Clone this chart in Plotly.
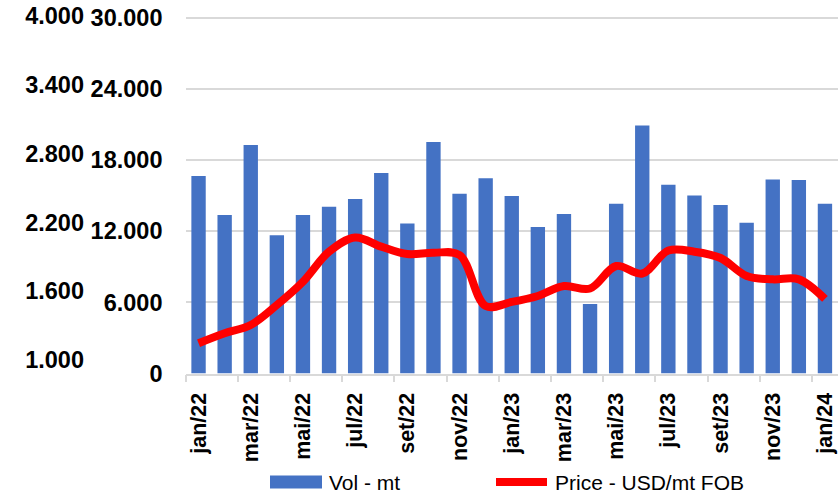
import plotly.graph_objects as go

# Monthly export volume (mt) and FOB price (USD/mt), Jan/22 - Jan/24
months = ["jan/22", "fev/22", "mar/22", "abr/22", "mai/22", "jun/22", "jul/22", "ago/22",
          "set/22", "out/22", "nov/22", "dez/22", "jan/23", "fev/23", "mar/23", "abr/23",
          "mai/23", "jun/23", "jul/23", "ago/23", "set/23", "out/23", "nov/23", "dez/23",
          "jan/24"]
volume_mt = [16650, 13350, 19250, 11650, 13350, 14050, 14700, 16900, 12650, 19500,
             15150, 16450, 14950, 12350, 13450, 5850, 14300, 20900, 15900, 15000,
             14200, 12700, 16350, 16300, 14300]
price_usd = [1146, 1233, 1305, 1479, 1682, 1944, 2068, 1988, 1924, 1935, 1915, 1471,
             1506, 1558, 1645, 1623, 1819, 1754, 1954, 1944, 1889, 1732, 1703, 1703,
             1532]

vol_ticks = [0, 6000, 12000, 18000, 24000, 30000]
price_ticks = [1000, 1600, 2200, 2800, 3400, 4000]

W, H = 838, 494
BLUE = "#4472C4"
RED = "#FF0000"
GRID = "#D9D9D9"
FAMILY = "Liberation Sans, Arial, sans-serif"
TICK_FONT = dict(family=FAMILY, size=23.5, color="#000000", weight="bold")

fig = go.Figure()

fig.add_trace(go.Bar(
    x=months, y=volume_mt, name="Vol - mt",
    marker=dict(color=BLUE, line=dict(width=0)),
    yaxis="y", showlegend=False,
))
fig.add_trace(go.Scatter(
    x=months, y=price_usd, name="Price - USD/mt FOB",
    mode="lines", line=dict(color=RED, width=8, shape="spline", smoothing=1.0),
    yaxis="y2", showlegend=False,
))

# plot area in pixels
left_px, right_px = 185.5, 838
top_px, base_px = 15.8, 373.5
px_per_6000 = 71.2
vol_top = 6000 * (base_px - top_px) / px_per_6000
# price axis: 1.000 at y=360px, 4.000 at y=15.8px
price_px_per_unit = (360 - 15.8) / 3000
price_bottom = 1000 - (base_px - 360) / price_px_per_unit

fig.update_layout(
    width=W, height=H,
    margin=dict(l=0, r=0, t=0, b=0, autoexpand=False),
    paper_bgcolor="white", plot_bgcolor="white",
    separators=",.",
    bargap=0.45,
    xaxis=dict(
        domain=[left_px / W, right_px / W],
        automargin=False,
        type="category",
        tickmode="linear", tick0=0, dtick=2,
        tickson="boundaries",
        ticks="outside", ticklen=7, tickcolor=GRID, tickwidth=1.5,
        showline=True, linecolor=GRID, linewidth=1.5,
        showgrid=False,
        tickangle=-90,
        tickfont=dict(family=FAMILY, size=21.5, color="#000000", weight="bold"),
        ticklabelstandoff=9,
        range=[-0.5, 24.5],
    ),
    yaxis=dict(
        domain=[(H - base_px) / H, (H - top_px) / H],
        automargin=False,
        range=[0, vol_top],
        tickvals=vol_ticks, tickformat=",.0f",
        showgrid=True, gridcolor=GRID, gridwidth=1.5,
        zeroline=False, showline=False, ticks="",
        tickfont=TICK_FONT,
        ticklabelstandoff=22,
    ),
    yaxis2=dict(
        overlaying="y", anchor="free", side="left",
        automargin=False,
        position=84 / W,
        range=[price_bottom, 4000],
        tickvals=price_ticks, tickformat=",.0f",
        showgrid=False, zeroline=False, showline=False, ticks="",
        tickfont=TICK_FONT,
        ticklabelstandoff=0,
    ),
)

# legend drawn below the axis
leg_y = (H - 482) / H
fig.add_shape(type="rect", xref="paper", yref="paper",
              x0=270 / W, x1=322 / W, y0=(H - 488.5) / H, y1=(H - 475.5) / H,
              fillcolor=BLUE, line=dict(width=0))
fig.add_shape(type="line", xref="paper", yref="paper",
              x0=496 / W, x1=547 / W, y0=leg_y, y1=leg_y,
              line=dict(color=RED, width=8))
legend_font = dict(family=FAMILY, size=21, color="#000000")
fig.add_annotation(xref="paper", yref="paper", x=327 / W, y=leg_y,
                   text="Vol - mt", showarrow=False, xanchor="left", yanchor="middle",
                   font=legend_font)
fig.add_annotation(xref="paper", yref="paper", x=553 / W, y=leg_y,
                   text="Price - USD/mt FOB", showarrow=False, xanchor="left", yanchor="middle",
                   font=legend_font)

fig.write_html("out.html")
